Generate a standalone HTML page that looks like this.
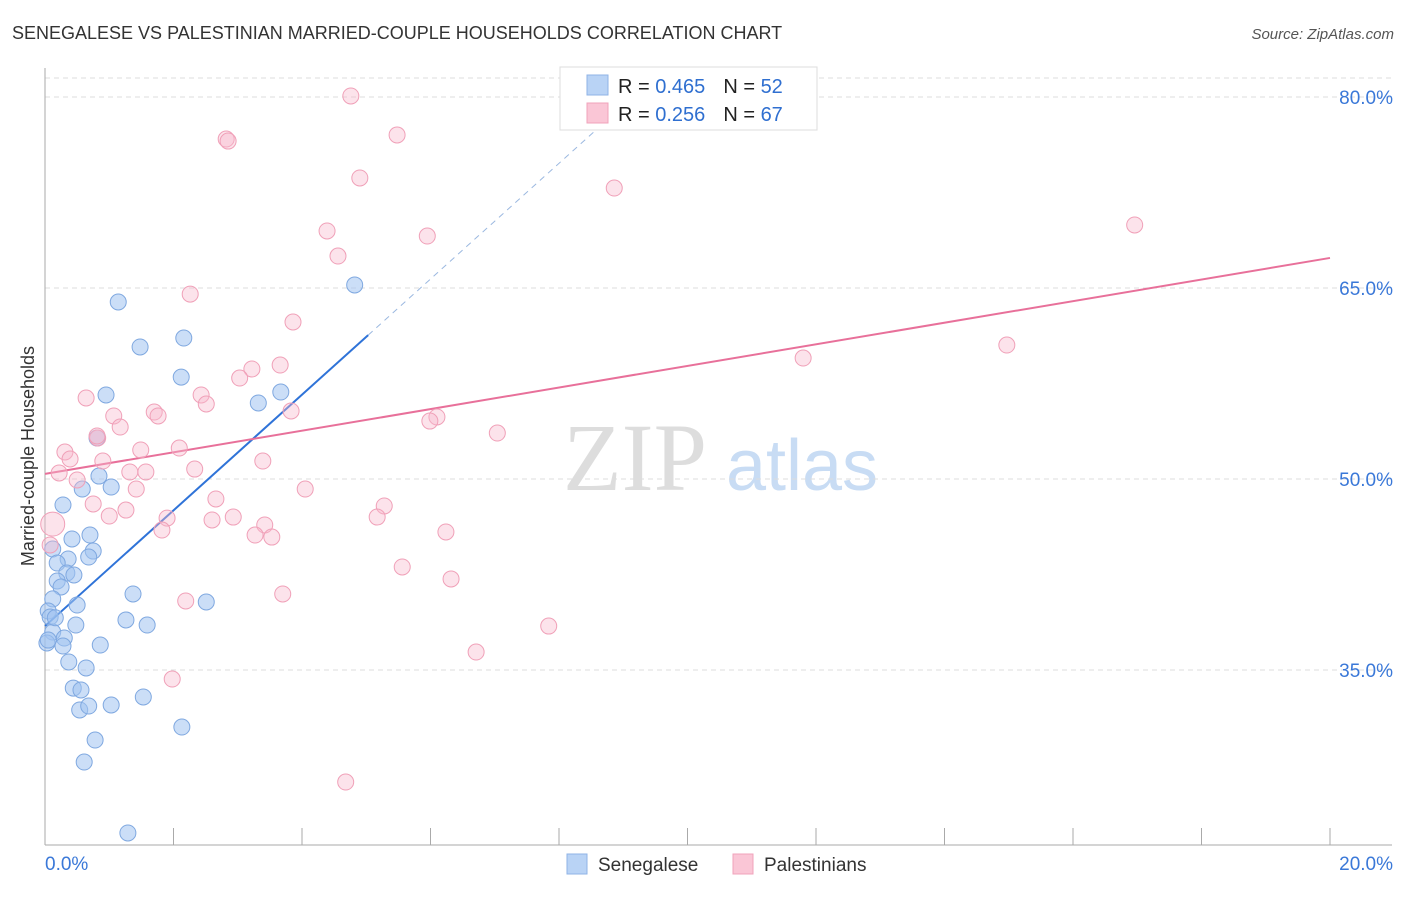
<!DOCTYPE html>
<html><head><meta charset="utf-8"><style>
body{margin:0;background:#fff;font-family:"Liberation Sans",sans-serif;}
</style></head><body>
<svg id="chart" width="1406" height="892" xmlns="http://www.w3.org/2000/svg" font-family="Liberation Sans, sans-serif">
<text x="12" y="39" font-size="18" fill="#333">SENEGALESE VS PALESTINIAN MARRIED-COUPLE HOUSEHOLDS CORRELATION CHART</text>
<text x="1394" y="39" font-size="15" fill="#555" text-anchor="end" font-style="italic">Source: ZipAtlas.com</text>
<text transform="translate(34,456) rotate(-90)" font-size="18" fill="#333" text-anchor="middle">Married-couple Households</text>
<g><text x="635" y="490" font-size="96" fill="#ddd" text-anchor="middle" font-family="Liberation Serif, serif">ZIP</text><text x="802" y="490" font-size="72" fill="#c8dcf4" text-anchor="middle">atlas</text></g>
<g id="grid"></g><g id="axes"></g><g id="lines"></g><g id="pts"></g>
<g>
<rect x="560" y="67" width="257" height="63" fill="#fff" stroke="#ddd"/>
<rect x="587" y="75" width="21" height="20" fill="#b9d3f5" stroke="#8fb3e6"/>
<rect x="587" y="103" width="21" height="20" fill="#fac6d6" stroke="#f0a3bb"/>
<text x="618" y="93" font-size="20" fill="#222">R = <tspan fill="#2f6fd0">0.465</tspan><tspan dx="18">N = </tspan><tspan fill="#2f6fd0">52</tspan></text>
<text x="618" y="121" font-size="20" fill="#222">R = <tspan fill="#2f6fd0">0.256</tspan><tspan dx="18">N = </tspan><tspan fill="#2f6fd0">67</tspan></text>
</g>
<g>
<rect x="567" y="854" width="20" height="20" fill="#b9d3f5" stroke="#8fb3e6"/>
<text x="598" y="871" font-size="19" fill="#333">Senegalese</text>
<rect x="733" y="854" width="20" height="20" fill="#fac6d6" stroke="#f0a3bb"/>
<text x="764" y="871" font-size="19" fill="#333">Palestinians</text>
</g>
</svg>
<script>
const yTicks=[80,65,50,35];
const yTickLabels=["80.0%","65.0%","50.0%","35.0%"];
const xTickLabels=["0.0%","20.0%"];
const blueX=[1.14,1.48,2.16,2.12,0.95,3.32,3.67,4.82,0.81,0.84,1.03,0.58,0.28,0.42,0.70,0.75,0.68,0.12,0.36,0.19,0.34,0.45,0.19,0.25,0.12,0.50,0.05,0.08,0.48,0.12,0.30,0.86,0.28,0.03,0.37,0.64,1.37,1.26,1.59,2.51,0.44,0.56,0.54,0.68,1.03,1.53,0.78,0.61,2.13,1.29,0.16,0.05];
const blueY=[63.9,60.37,61.07,58.0,56.6,55.97,56.83,65.24,53.22,50.23,49.37,49.21,47.96,45.29,45.6,44.34,43.87,44.5,43.72,43.4,42.62,42.46,41.99,41.52,40.58,40.1,39.63,39.16,38.53,37.98,37.51,36.96,36.88,37.12,35.63,35.16,40.97,38.93,38.53,40.34,33.58,33.43,31.86,32.17,32.25,32.88,29.5,27.77,30.52,22.2,39.1,37.35];
const pinkX=[4.76,2.82,2.85,5.48,4.90,8.86,16.96,5.95,4.39,4.56,2.26,3.86,14.97,11.8,3.66,3.22,3.03,2.43,2.51,0.64,1.07,1.70,1.76,1.17,3.83,6.10,5.99,7.04,0.82,0.31,1.49,2.09,0.39,3.39,0.90,2.33,0.22,1.32,1.57,0.50,1.42,4.05,2.66,0.75,1.26,5.28,1.00,1.90,5.17,2.60,2.93,3.42,1.82,3.27,3.53,6.24,5.56,6.32,2.19,3.70,7.84,6.71,1.98,4.68,0.12,0.08,0.81];
const pinkY=[80.08,76.7,76.54,77.02,73.64,72.85,69.95,69.08,69.48,67.51,64.52,62.33,60.52,59.5,58.95,58.64,57.93,56.6,55.89,56.36,54.95,55.26,54.95,54.08,55.34,54.87,54.55,53.61,53.22,52.12,52.28,52.43,51.57,51.41,51.41,50.78,50.47,50.55,50.55,49.92,49.21,49.21,48.43,48.04,47.56,47.88,47.09,46.93,47.01,46.78,47.01,46.39,45.99,45.6,45.44,45.84,43.09,42.15,40.42,40.97,38.45,36.41,34.29,26.2,46.46,44.82,53.38];
const blueTrend=[0,38.45,5.03,61.3];
const blueDash=[5.03,61.3,8.64,77.7];
const pinkTrend=[0,50.4,20,67.36];

const NS="http://www.w3.org/2000/svg";
const X=v=>45+v*64.25, Y=v=>97+(80-v)*12.733;
function mk(t,a,p){const e=document.createElementNS(NS,t);for(const k in a)e.setAttribute(k,a[k]);p.appendChild(e);return e;}
const grid=document.getElementById('grid'),axes=document.getElementById('axes'),lines=document.getElementById('lines'),pts=document.getElementById('pts');
const gTop=mk('line',{x1:45,x2:1392,y1:78,y2:78,stroke:'#ddd','stroke-dasharray':'5,4'},grid);


yTicks.forEach((t,i)=>{
 const g=mk('line',{x1:45,x2:1392,y1:Y(t),y2:Y(t),stroke:'#ddd','stroke-dasharray':'5,4'},grid);
 
 
 const l=mk('text',{x:1393,y:Y(t)+7,'font-size':19,fill:'#3a78d8','text-anchor':'end'},axes);
 l.textContent=yTickLabels[i];
 
 
});
const ax1=mk('line',{x1:45,x2:45,y1:68,y2:845,stroke:'#aaa'},axes);


const ax2=mk('line',{x1:45,x2:1392,y1:845,y2:845,stroke:'#aaa'},axes);


for(let i=0;i<=10;i++){const tk=mk('line',{x1:X(i*2),x2:X(i*2),y1:828,y2:845,stroke:'#aaa'},axes);
 
 }
[[0,'start',45],[20,'end',1393]].forEach((d,i)=>{const l=mk('text',{x:d[2],y:870,'font-size':19,fill:'#3a78d8','text-anchor':d[1]},axes);l.textContent=xTickLabels[i];
 
 });
function dot(x,y,f,s,name,r){const c=mk('circle',{cx:X(x),cy:Y(y),r:r||8,fill:f,stroke:s,'stroke-width':1},pts);
 
 }
blueX.forEach((x,i)=>dot(x,blueY[i],'rgba(160,195,240,0.55)','#7fa8e0','senegalese-point'));
pinkX.forEach((x,i)=>dot(x,pinkY[i],'rgba(248,184,204,0.4)','#f0a0b8','palestinian-point',i==64?12:8));
const bl=mk('line',{x1:X(blueTrend[0]),y1:Y(blueTrend[1]),x2:X(blueTrend[2]),y2:Y(blueTrend[3]),stroke:'#2f73d8','stroke-width':2},lines);


const bd=mk('line',{x1:X(blueDash[0]),y1:Y(blueDash[1]),x2:X(blueDash[2]),y2:Y(blueDash[3]),stroke:'#9bb8e0','stroke-width':1,'stroke-dasharray':'6,5'},lines);


const pl=mk('line',{x1:X(pinkTrend[0]),y1:Y(pinkTrend[1]),x2:X(pinkTrend[2]),y2:Y(pinkTrend[3]),stroke:'#e8709a','stroke-width':2},lines);


</script>
</body></html>
